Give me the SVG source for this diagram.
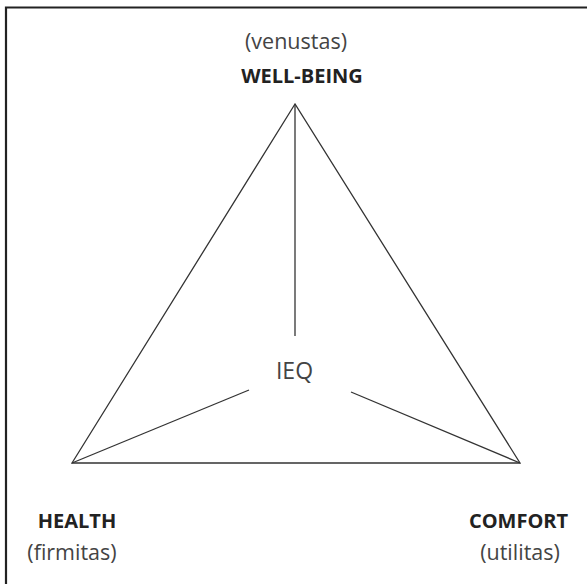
<svg xmlns="http://www.w3.org/2000/svg" width="587" height="584" viewBox="0 0 587 584">
<style>
.lbl{font-family:"Open Sans","Noto Sans","DejaVu Sans",sans-serif;fill:#333;}
.b{font-weight:bold;font-size:20px;fill:#222;}
.n{font-size:21.5px;fill:#444;}
.ln{stroke:#333;stroke-width:1.3;fill:none;}
</style>
<rect x="0" y="0" width="587" height="584" fill="#fff"/>
<path d="M6,584 V7.5 H587" fill="none" stroke="#222" stroke-width="2.2"/>
<g id="connectors">
<polygon class="ln" points="295,104 72,463 520,463"/>
<line class="ln" x1="295" y1="104" x2="295" y2="336"/>
<line class="ln" x1="72" y1="463" x2="249" y2="390"/>
<line class="ln" x1="520" y1="463" x2="351" y2="392"/>
</g>
<g id="well-being">
<text class="lbl n" x="296" y="49" text-anchor="middle">(venustas)</text>
<text class="lbl b" x="302" y="83" text-anchor="middle">WELL-BEING</text>
</g>
<g id="ieq">
<text class="lbl n" x="294.5" y="379" text-anchor="middle" style="font-size:23px">IEQ</text>
</g>
<g id="health">
<text class="lbl b" x="77" y="528" text-anchor="middle">HEALTH</text>
<text class="lbl n" x="72" y="559.5" text-anchor="middle">(firmitas)</text>
</g>
<g id="comfort">
<text class="lbl b" x="518.5" y="528" text-anchor="middle">COMFORT</text>
<text class="lbl n" x="520" y="559.5" text-anchor="middle">(utilitas)</text>
</g>
</svg>
